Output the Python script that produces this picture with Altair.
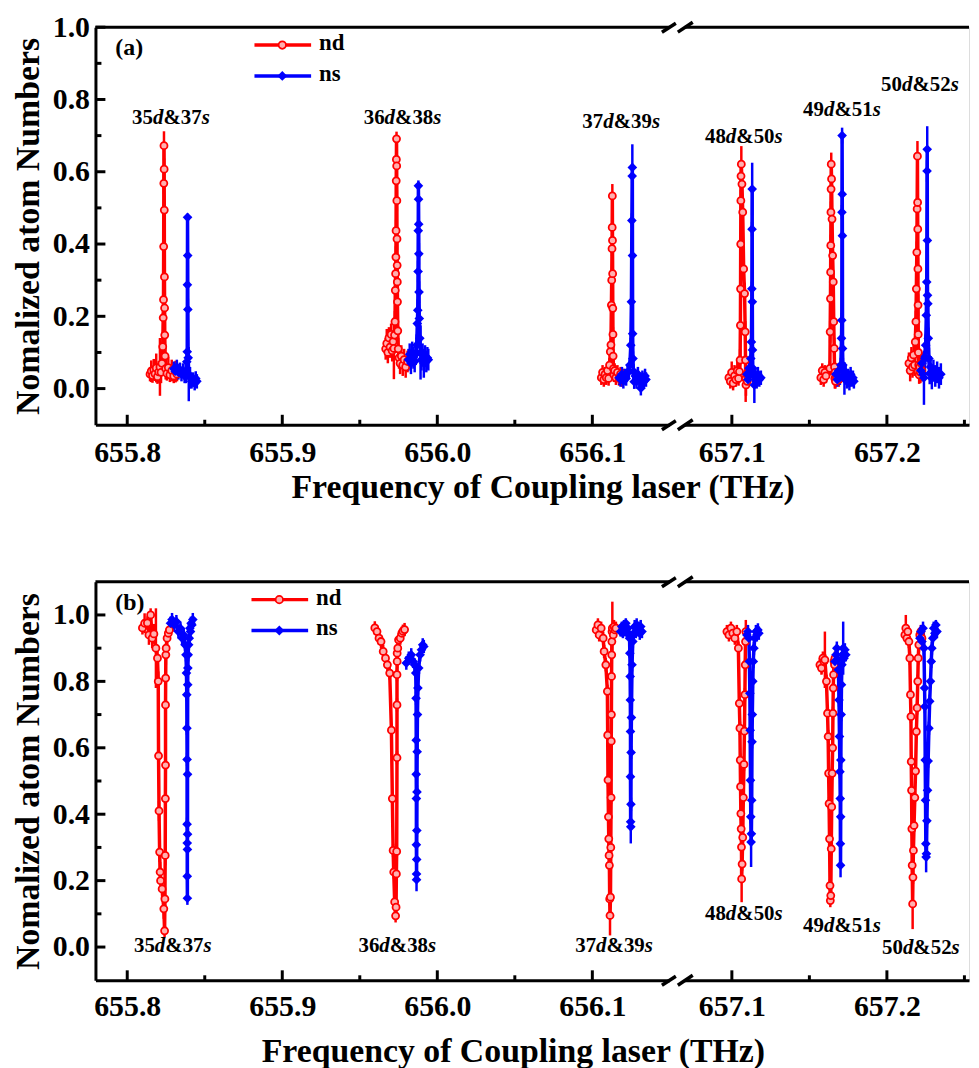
import altair as alt
import pandas as pd

FONT = "Liberation Serif, Times New Roman, serif"
F0 = 655.7795      # frequency at left edge of left segment
F1 = 657.0645      # frequency at start of right segment
BRK = 0.375        # display position of the axis break
PXU = 1560.0       # pixels per THz
W = 879
DOM = W / PXU
HA = 400
HB = 401

SERIES = ["nd", "ns"]
COLORS = ["#ff0000", "#0000ff"]
LABELS = ["35d&37s", "36d&38s", "37d&39s", "48d&50s", "49d&51s", "50d&52s"]
X_MAJOR = [655.8, 655.9, 656.0, 656.1, 657.1, 657.2]
X_MINOR = [655.85, 655.95, 656.05, 657.15, 657.25]
Y_MAJOR = [0.0, 0.2, 0.4, 0.6, 0.8, 1.0]
Y_MINOR = [0.1, 0.3, 0.5, 0.7, 0.9]

# ---------------- panel (a) ----------------
a35_nd_f = [655.8147, 655.8155, 655.8163, 655.8171, 655.8179, 655.8187, 655.8195, 655.8203, 655.8211, 655.8218, 655.8224, 655.8229, 655.8232, 655.8234, 655.8235, 655.8236, 655.8237, 655.8238, 655.8239, 655.8240, 655.8241, 655.8242, 655.8244, 655.8248, 655.8256, 655.8265, 655.8275, 655.8287, 655.8300, 655.8312, 655.8321]
a35_nd_v = [0.040, 0.048, 0.036, 0.052, 0.041, 0.057, 0.033, 0.046, 0.060, 0.045, 0.070, 0.116, 0.196, 0.246, 0.393, 0.568, 0.672, 0.607, 0.494, 0.309, 0.223, 0.148, 0.090, 0.055, 0.042, 0.058, 0.038, 0.050, 0.035, 0.047, 0.040]
a35_nd_e = [0.02, 0.03, 0.02, 0.03, 0.02, 0.04, 0.02, 0.03, 0.08, 0.03, 0.03, 0.03, 0.03, 0.03, 0.03, 0.03, 0.04, 0.03, 0.03, 0.03, 0.03, 0.03, 0.03, 0.03, 0.02, 0.03, 0.02, 0.03, 0.02, 0.03, 0.02]
a35_ns_f = [655.8301, 655.8310, 655.8320, 655.8330, 655.8340, 655.8350, 655.8360, 655.8370, 655.8378, 655.8384, 655.8387, 655.8388, 655.8389, 655.8390, 655.8391, 655.8393, 655.8397, 655.8405, 655.8415, 655.8425, 655.8435, 655.8442, 655.8449]
a35_ns_v = [0.055, 0.048, 0.060, 0.045, 0.052, 0.040, 0.050, 0.035, 0.045, 0.074, 0.102, 0.287, 0.474, 0.368, 0.219, 0.085, 0.040, 0.030, 0.020, 0.025, 0.015, 0.028, 0.020]
a35_ns_e = [0.02, 0.02, 0.02, 0.02, 0.02, 0.02, 0.02, 0.02, 0.03, 0.03, 0.03, 0.03, 0.01, 0.03, 0.03, 0.03, 0.075, 0.03, 0.02, 0.02, 0.02, 0.02, 0.02]

a36_nd_f = [655.9667, 655.9674, 655.9681, 655.9688, 655.9695, 655.9702, 655.9709, 655.9715, 655.9720, 655.9724, 655.9727, 655.9729, 655.9731, 655.9733, 655.9734, 655.9735, 655.9736, 655.9737, 655.9738, 655.9739, 655.9740, 655.9741, 655.9742, 655.9743, 655.9745, 655.9748, 655.9753, 655.9760, 655.9768, 655.9777, 655.9786, 655.9796, 655.9808]
a36_nd_v = [0.110, 0.125, 0.100, 0.140, 0.115, 0.150, 0.105, 0.130, 0.111, 0.148, 0.185, 0.272, 0.318, 0.364, 0.437, 0.575, 0.634, 0.691, 0.616, 0.520, 0.414, 0.341, 0.295, 0.240, 0.160, 0.110, 0.085, 0.070, 0.090, 0.065, 0.080, 0.060, 0.075]
a36_nd_e = [0.03, 0.04, 0.03, 0.03, 0.03, 0.03, 0.03, 0.03, 0.085, 0.03, 0.03, 0.03, 0.03, 0.03, 0.03, 0.03, 0.03, 0.02, 0.03, 0.03, 0.03, 0.03, 0.03, 0.03, 0.03, 0.03, 0.03, 0.03, 0.03, 0.03, 0.03, 0.03, 0.03]
a36_ns_f = [655.9814, 655.9822, 655.9830, 655.9838, 655.9846, 655.9854, 655.9861, 655.9867, 655.9871, 655.9874, 655.9876, 655.9877, 655.9878, 655.9879, 655.9880, 655.9881, 655.9882, 655.9884, 655.9887, 655.9892, 655.9898, 655.9905, 655.9913, 655.9921, 655.9929, 655.9936, 655.9942]
a36_ns_v = [0.080, 0.095, 0.070, 0.100, 0.085, 0.075, 0.095, 0.120, 0.180, 0.217, 0.324, 0.437, 0.561, 0.524, 0.455, 0.373, 0.267, 0.194, 0.139, 0.100, 0.080, 0.095, 0.070, 0.090, 0.075, 0.085, 0.080]
a36_ns_e = [0.03, 0.03, 0.03, 0.03, 0.03, 0.03, 0.03, 0.03, 0.03, 0.03, 0.03, 0.03, 0.015, 0.03, 0.03, 0.03, 0.03, 0.03, 0.03, 0.075, 0.03, 0.03, 0.04, 0.03, 0.03, 0.03, 0.03]

a37_nd_f = [656.1058, 656.1066, 656.1074, 656.1082, 656.1090, 656.1098, 656.1105, 656.1111, 656.1116, 656.1120, 656.1123, 656.1125, 656.1127, 656.1128, 656.1129, 656.1130, 656.1131, 656.1132, 656.1133, 656.1134, 656.1136, 656.1139, 656.1144, 656.1152, 656.1162, 656.1172, 656.1182, 656.1191, 656.1199]
a37_nd_v = [0.030, 0.045, 0.025, 0.040, 0.030, 0.050, 0.028, 0.065, 0.102, 0.121, 0.231, 0.300, 0.387, 0.446, 0.533, 0.410, 0.318, 0.222, 0.150, 0.090, 0.055, 0.038, 0.050, 0.030, 0.045, 0.028, 0.040, 0.025, 0.035]
a37_nd_e = [0.02, 0.02, 0.02, 0.02, 0.02, 0.02, 0.02, 0.02, 0.02, 0.02, 0.02, 0.02, 0.02, 0.02, 0.033, 0.02, 0.02, 0.02, 0.02, 0.02, 0.02, 0.02, 0.02, 0.02, 0.02, 0.02, 0.02, 0.02, 0.02]
a37_ns_f = [656.1173, 656.1182, 656.1191, 656.1200, 656.1209, 656.1218, 656.1227, 656.1235, 656.1242, 656.1248, 656.1252, 656.1255, 656.1257, 656.1258, 656.1259, 656.1260, 656.1262, 656.1265, 656.1270, 656.1277, 656.1285, 656.1294, 656.1303, 656.1313, 656.1323, 656.1333, 656.1340, 656.1346]
a37_ns_v = [0.030, 0.025, 0.040, 0.020, 0.035, 0.028, 0.045, 0.047, 0.065, 0.120, 0.240, 0.465, 0.588, 0.612, 0.368, 0.152, 0.083, 0.047, 0.019, 0.035, 0.020, 0.040, 0.025, 0.001, 0.030, 0.020, 0.035, 0.025]
a37_ns_e = [0.02, 0.02, 0.02, 0.02, 0.02, 0.02, 0.02, 0.02, 0.02, 0.02, 0.02, 0.02, 0.02, 0.064, 0.02, 0.02, 0.02, 0.02, 0.02, 0.02, 0.02, 0.02, 0.02, 0.02, 0.02, 0.02, 0.02, 0.02]

a48_nd_f = [657.0981, 657.0990, 657.0999, 657.1008, 657.1017, 657.1026, 657.1035, 657.1043, 657.1049, 657.1053, 657.1055, 657.1056, 657.1057, 657.1058, 657.1059, 657.1061, 657.1065, 657.1070, 657.1076, 657.1082, 657.1086, 657.1088, 657.1089, 657.1091, 657.1095, 657.1099, 657.1103]
a48_nd_v = [0.030, 0.020, 0.045, 0.015, 0.035, 0.025, 0.050, 0.028, 0.047, 0.079, 0.175, 0.276, 0.400, 0.520, 0.588, 0.621, 0.566, 0.488, 0.331, 0.263, 0.157, 0.079, 0.028, 0.010, 0.040, 0.020, 0.035]
a48_nd_e = [0.02, 0.02, 0.03, 0.02, 0.03, 0.02, 0.03, 0.02, 0.03, 0.03, 0.03, 0.03, 0.03, 0.03, 0.03, 0.05, 0.03, 0.03, 0.03, 0.03, 0.03, 0.03, 0.065, 0.03, 0.02, 0.02, 0.02]
a48_ns_f = [657.1097, 657.1104, 657.1111, 657.1117, 657.1122, 657.1126, 657.1129, 657.1130, 657.1131, 657.1132, 657.1133, 657.1135, 657.1139, 657.1145, 657.1152, 657.1160, 657.1168, 657.1177, 657.1187]
a48_ns_v = [0.040, 0.025, 0.056, 0.038, 0.083, 0.129, 0.276, 0.441, 0.552, 0.240, 0.107, 0.056, 0.038, 0.010, 0.035, 0.020, 0.040, 0.025, 0.030]
a48_ns_e = [0.02, 0.02, 0.02, 0.02, 0.02, 0.02, 0.02, 0.02, 0.073, 0.02, 0.02, 0.02, 0.02, 0.05, 0.02, 0.02, 0.02, 0.02, 0.02]

a49_nd_f = [657.1574, 657.1583, 657.1592, 657.1600, 657.1607, 657.1632, 657.1634, 657.1636, 657.1637, 657.1638, 657.1639, 657.1640, 657.1641, 657.1643, 657.1646, 657.1650, 657.1654, 657.1657, 657.1660, 657.1662, 657.1664, 657.1666, 657.1668, 657.1672, 657.1678, 657.1684, 657.1690]
a49_nd_v = [0.030, 0.050, 0.025, 0.045, 0.035, 0.056, 0.157, 0.249, 0.322, 0.396, 0.488, 0.552, 0.621, 0.580, 0.469, 0.368, 0.295, 0.185, 0.111, 0.060, 0.028, 0.045, 0.020, 0.035, 0.030, 0.040, 0.025]
a49_nd_e = [0.02, 0.02, 0.02, 0.02, 0.02, 0.02, 0.03, 0.03, 0.03, 0.03, 0.03, 0.03, 0.032, 0.03, 0.03, 0.03, 0.03, 0.03, 0.03, 0.03, 0.028, 0.02, 0.02, 0.02, 0.02, 0.02, 0.02]
a49_ns_f = [657.1671, 657.1680, 657.1689, 657.1697, 657.1703, 657.1707, 657.1709, 657.1710, 657.1711, 657.1712, 657.1713, 657.1714, 657.1716, 657.1720, 657.1726, 657.1734, 657.1742, 657.1750, 657.1758, 657.1766, 657.1774, 657.1781, 657.1787]
a49_ns_v = [0.040, 0.025, 0.050, 0.030, 0.065, 0.139, 0.189, 0.488, 0.700, 0.538, 0.423, 0.111, 0.065, 0.038, 0.028, 0.045, 0.020, 0.035, 0.015, 0.040, 0.025, 0.030, 0.020]
a49_ns_e = [0.02, 0.02, 0.02, 0.02, 0.02, 0.02, 0.02, 0.02, 0.022, 0.02, 0.02, 0.02, 0.02, 0.02, 0.045, 0.02, 0.02, 0.02, 0.02, 0.02, 0.02, 0.02, 0.02]

a50_nd_f = [657.2142, 657.2150, 657.2158, 657.2165, 657.2172, 657.2178, 657.2183, 657.2187, 657.2190, 657.2193, 657.2195, 657.2197, 657.2198, 657.2199, 657.2200, 657.2201, 657.2202, 657.2203, 657.2205, 657.2208, 657.2212, 657.2216, 657.2221, 657.2226]
a50_nd_v = [0.070, 0.050, 0.085, 0.060, 0.093, 0.065, 0.129, 0.185, 0.276, 0.377, 0.497, 0.643, 0.515, 0.441, 0.331, 0.231, 0.150, 0.100, 0.065, 0.038, 0.060, 0.045, 0.070, 0.050]
a50_nd_e = [0.03, 0.03, 0.03, 0.03, 0.03, 0.03, 0.03, 0.03, 0.03, 0.03, 0.03, 0.042, 0.03, 0.03, 0.03, 0.03, 0.03, 0.03, 0.03, 0.025, 0.03, 0.03, 0.03, 0.03]
a50_ns_f = [657.2219, 657.2226, 657.2232, 657.2239, 657.2245, 657.2250, 657.2254, 657.2257, 657.2259, 657.2260, 657.2261, 657.2262, 657.2264, 657.2267, 657.2271, 657.2276, 657.2282, 657.2290, 657.2300, 657.2312, 657.2324, 657.2336, 657.2348]
a50_ns_v = [0.050, 0.070, 0.040, 0.030, 0.083, 0.120, 0.203, 0.295, 0.602, 0.662, 0.410, 0.258, 0.235, 0.139, 0.083, 0.042, 0.060, 0.028, 0.050, 0.035, 0.045, 0.030, 0.040]
a50_ns_e = [0.02, 0.03, 0.02, 0.075, 0.03, 0.03, 0.03, 0.03, 0.03, 0.064, 0.03, 0.03, 0.03, 0.03, 0.03, 0.03, 0.03, 0.03, 0.03, 0.03, 0.03, 0.03, 0.03]

# ---------------- panel (b) ----------------
b35_nd_f = [655.8098, 655.8112, 655.8130, 655.8140, 655.8151, 655.8161, 655.8172, 655.8185, 655.8195, 655.8200, 655.8202, 655.8205, 655.8209, 655.8212, 655.8215, 655.8225, 655.8236, 655.8241, 655.8243, 655.8245, 655.8246, 655.8247, 655.8247, 655.8248, 655.8249, 655.8251, 655.8257, 655.8265, 655.8272]
b35_nd_v = [0.961, 0.975, 0.976, 0.940, 1.000, 0.930, 0.943, 0.900, 0.870, 0.800, 0.576, 0.410, 0.286, 0.226, 0.200, 0.175, 0.115, 0.049, 0.145, 0.276, 0.447, 0.548, 0.729, 0.810, 0.880, 0.900, 0.930, 0.945, 0.955]
b35_nd_e = [0.02, 0.03, 0.02, 0.03, 0.02, 0.03, 0.03, 0.12, 0.03, 0.03, 0.03, 0.03, 0.03, 0.03, 0.03, 0.03, 0.03, 0.02, 0.03, 0.03, 0.03, 0.03, 0.03, 0.03, 0.03, 0.03, 0.03, 0.02, 0.02]
b35_ns_f = [655.8279, 655.8289, 655.8303, 655.8317, 655.8330, 655.8343, 655.8354, 655.8364, 655.8373, 655.8379, 655.8382, 655.8384, 655.8385, 655.8386, 655.8386, 655.8387, 655.8387, 655.8388, 655.8388, 655.8389, 655.8389, 655.8390, 655.8391, 655.8393, 655.8396, 655.8400, 655.8404, 655.8408, 655.8412, 655.8417, 655.8423]
b35_ns_v = [0.975, 0.986, 0.970, 0.980, 0.950, 0.960, 0.930, 0.940, 0.910, 0.880, 0.825, 0.760, 0.659, 0.565, 0.370, 0.313, 0.213, 0.147, 0.294, 0.340, 0.520, 0.790, 0.840, 0.880, 0.910, 0.930, 0.960, 0.950, 0.975, 0.970, 0.986]
b35_ns_e = [0.02, 0.02, 0.02, 0.02, 0.02, 0.02, 0.02, 0.02, 0.02, 0.02, 0.02, 0.02, 0.02, 0.02, 0.02, 0.02, 0.02, 0.02, 0.02, 0.02, 0.02, 0.02, 0.02, 0.02, 0.02, 0.02, 0.02, 0.02, 0.02, 0.02, 0.02]

b36_nd_f = [655.9597, 655.9611, 655.9624, 655.9637, 655.9651, 655.9666, 655.9678, 655.9693, 655.9704, 655.9710, 655.9715, 655.9719, 655.9725, 655.9731, 655.9734, 655.9736, 655.9738, 655.9740, 655.9740, 655.9740, 655.9741, 655.9741, 655.9745, 655.9750, 655.9761, 655.9771, 655.9778, 655.9789]
b36_nd_v = [0.961, 0.950, 0.930, 0.920, 0.890, 0.870, 0.850, 0.825, 0.653, 0.447, 0.291, 0.226, 0.136, 0.094, 0.120, 0.220, 0.288, 0.570, 0.729, 0.820, 0.860, 0.885, 0.900, 0.925, 0.930, 0.945, 0.951, 0.956]
b36_nd_e = [0.02, 0.02, 0.02, 0.02, 0.02, 0.02, 0.02, 0.02, 0.02, 0.02, 0.02, 0.02, 0.02, 0.02, 0.02, 0.02, 0.02, 0.02, 0.02, 0.02, 0.02, 0.02, 0.02, 0.02, 0.02, 0.02, 0.02, 0.02]
b36_ns_f = [655.9800, 655.9816, 655.9832, 655.9844, 655.9853, 655.9861, 655.9863, 655.9864, 655.9864, 655.9865, 655.9865, 655.9866, 655.9866, 655.9867, 655.9868, 655.9869, 655.9870, 655.9872, 655.9875, 655.9880, 655.9889, 655.9898, 655.9906, 655.9913]
b36_ns_v = [0.855, 0.870, 0.880, 0.860, 0.850, 0.825, 0.749, 0.623, 0.520, 0.447, 0.308, 0.220, 0.203, 0.264, 0.351, 0.467, 0.588, 0.700, 0.780, 0.840, 0.880, 0.895, 0.910, 0.905]
b36_ns_e = [0.02, 0.02, 0.02, 0.02, 0.02, 0.02, 0.02, 0.02, 0.02, 0.02, 0.02, 0.02, 0.035, 0.02, 0.02, 0.02, 0.02, 0.02, 0.02, 0.02, 0.02, 0.02, 0.02, 0.02]

b37_nd_f = [656.1025, 656.1036, 656.1044, 656.1057, 656.1070, 656.1076, 656.1087, 656.1097, 656.1099, 656.1101, 656.1104, 656.1106, 656.1108, 656.1110, 656.1112, 656.1114, 656.1117, 656.1119, 656.1121, 656.1122, 656.1123, 656.1124, 656.1125, 656.1126, 656.1127, 656.1129, 656.1135, 656.1140, 656.1146, 656.1152]
b37_nd_v = [0.955, 0.970, 0.940, 0.960, 0.930, 0.890, 0.850, 0.770, 0.638, 0.503, 0.392, 0.326, 0.276, 0.246, 0.145, 0.095, 0.150, 0.300, 0.450, 0.620, 0.700, 0.815, 0.880, 0.920, 0.950, 0.960, 0.940, 0.965, 0.955, 0.960]
b37_nd_e = [0.02, 0.02, 0.02, 0.02, 0.02, 0.02, 0.02, 0.02, 0.02, 0.02, 0.02, 0.02, 0.02, 0.02, 0.02, 0.06, 0.02, 0.02, 0.02, 0.02, 0.02, 0.02, 0.02, 0.02, 0.02, 0.08, 0.02, 0.02, 0.02, 0.02]
b37_ns_f = [656.1182, 656.1190, 656.1197, 656.1204, 656.1210, 656.1216, 656.1222, 656.1229, 656.1235, 656.1240, 656.1242, 656.1244, 656.1245, 656.1246, 656.1246, 656.1247, 656.1248, 656.1249, 656.1250, 656.1252, 656.1256, 656.1261, 656.1267, 656.1273, 656.1280, 656.1286, 656.1293, 656.1299, 656.1306, 656.1312, 656.1320]
b37_ns_v = [0.950, 0.965, 0.945, 0.970, 0.955, 0.975, 0.950, 0.960, 0.940, 0.930, 0.885, 0.815, 0.744, 0.649, 0.513, 0.377, 0.362, 0.430, 0.586, 0.691, 0.850, 0.920, 0.945, 0.965, 0.950, 0.970, 0.955, 0.960, 0.945, 0.965, 0.950]
b37_ns_e = [0.015, 0.015, 0.015, 0.015, 0.015, 0.015, 0.015, 0.015, 0.015, 0.015, 0.015, 0.015, 0.015, 0.015, 0.015, 0.015, 0.05, 0.02, 0.02, 0.02, 0.02, 0.02, 0.02, 0.02, 0.02, 0.02, 0.02, 0.02, 0.02, 0.02, 0.02]

b48_nd_f = [657.0968, 657.0981, 657.0994, 657.1006, 657.1019, 657.1032, 657.1042, 657.1048, 657.1052, 657.1054, 657.1056, 657.1058, 657.1060, 657.1062, 657.1063, 657.1066, 657.1070, 657.1074, 657.1078, 657.1081, 657.1084, 657.1086, 657.1088, 657.1090]
b48_nd_v = [0.950, 0.940, 0.960, 0.945, 0.930, 0.950, 0.900, 0.734, 0.659, 0.563, 0.483, 0.402, 0.356, 0.301, 0.205, 0.250, 0.330, 0.450, 0.550, 0.650, 0.760, 0.850, 0.920, 0.950]
b48_nd_e = [0.02, 0.02, 0.02, 0.02, 0.02, 0.02, 0.02, 0.02, 0.02, 0.02, 0.02, 0.02, 0.02, 0.02, 0.07, 0.02, 0.02, 0.02, 0.02, 0.02, 0.02, 0.02, 0.02, 0.035]
b48_ns_f = [657.1097, 657.1104, 657.1110, 657.1113, 657.1116, 657.1118, 657.1120, 657.1122, 657.1124, 657.1126, 657.1128, 657.1130, 657.1132, 657.1135, 657.1138, 657.1142, 657.1148, 657.1155, 657.1161, 657.1168, 657.1174]
b48_ns_v = [0.940, 0.950, 0.930, 0.860, 0.764, 0.653, 0.502, 0.392, 0.316, 0.341, 0.442, 0.618, 0.700, 0.800, 0.860, 0.900, 0.930, 0.950, 0.940, 0.955, 0.945]
b48_ns_e = [0.02, 0.02, 0.02, 0.02, 0.02, 0.02, 0.02, 0.02, 0.075, 0.02, 0.02, 0.02, 0.02, 0.02, 0.02, 0.02, 0.02, 0.02, 0.02, 0.02, 0.02]

b49_nd_f = [657.1568, 657.1578, 657.1587, 657.1594, 657.1600, 657.1610, 657.1617, 657.1621, 657.1624, 657.1627, 657.1630, 657.1633, 657.1635, 657.1638, 657.1641, 657.1644, 657.1647, 657.1650, 657.1652, 657.1654, 657.1656, 657.1659, 657.1662, 657.1665]
b49_nd_v = [0.850, 0.840, 0.870, 0.860, 0.865, 0.800, 0.704, 0.634, 0.523, 0.432, 0.326, 0.185, 0.140, 0.155, 0.296, 0.422, 0.523, 0.600, 0.704, 0.780, 0.820, 0.860, 0.850, 0.870]
b49_nd_e = [0.02, 0.02, 0.02, 0.02, 0.085, 0.02, 0.02, 0.02, 0.02, 0.02, 0.02, 0.02, 0.02, 0.02, 0.02, 0.02, 0.02, 0.02, 0.02, 0.02, 0.02, 0.02, 0.02, 0.02]
b49_ns_f = [657.1665, 657.1672, 657.1677, 657.1683, 657.1687, 657.1691, 657.1694, 657.1697, 657.1699, 657.1700, 657.1701, 657.1702, 657.1703, 657.1705, 657.1707, 657.1710, 657.1713, 657.1718, 657.1723, 657.1729, 657.1735]
b49_ns_v = [0.860, 0.880, 0.900, 0.865, 0.835, 0.744, 0.634, 0.528, 0.447, 0.311, 0.246, 0.392, 0.563, 0.700, 0.790, 0.850, 0.880, 0.900, 0.870, 0.895, 0.880]
b49_ns_e = [0.02, 0.02, 0.02, 0.02, 0.02, 0.02, 0.02, 0.02, 0.02, 0.02, 0.036, 0.02, 0.02, 0.02, 0.02, 0.02, 0.02, 0.08, 0.02, 0.02, 0.02]

b50_nd_f = [657.2116, 657.2122, 657.2129, 657.2135, 657.2142, 657.2148, 657.2152, 657.2155, 657.2157, 657.2159, 657.2161, 657.2163, 657.2166, 657.2168, 657.2171, 657.2175, 657.2180, 657.2185, 657.2190, 657.2195, 657.2199, 657.2202, 657.2206, 657.2212, 657.2219, 657.2226]
b50_nd_v = [0.940, 0.960, 0.930, 0.950, 0.920, 0.870, 0.760, 0.694, 0.558, 0.472, 0.356, 0.246, 0.130, 0.210, 0.291, 0.366, 0.450, 0.530, 0.649, 0.720, 0.800, 0.870, 0.910, 0.940, 0.950, 0.930]
b50_nd_e = [0.02, 0.04, 0.02, 0.02, 0.02, 0.02, 0.02, 0.02, 0.02, 0.02, 0.02, 0.02, 0.076, 0.02, 0.02, 0.02, 0.02, 0.02, 0.02, 0.02, 0.02, 0.02, 0.02, 0.02, 0.02, 0.02]
b50_ns_f = [657.2213, 657.2220, 657.2226, 657.2233, 657.2239, 657.2243, 657.2245, 657.2247, 657.2249, 657.2251, 657.2253, 657.2255, 657.2258, 657.2262, 657.2266, 657.2271, 657.2276, 657.2281, 657.2286, 657.2290, 657.2296, 657.2302, 657.2309, 657.2316, 657.2323]
b50_ns_v = [0.930, 0.950, 0.920, 0.960, 0.900, 0.780, 0.724, 0.563, 0.442, 0.311, 0.271, 0.281, 0.380, 0.472, 0.560, 0.659, 0.740, 0.800, 0.860, 0.900, 0.930, 0.960, 0.945, 0.970, 0.950]
b50_ns_e = [0.02, 0.02, 0.02, 0.02, 0.02, 0.02, 0.02, 0.02, 0.02, 0.02, 0.046, 0.02, 0.02, 0.02, 0.02, 0.02, 0.02, 0.02, 0.02, 0.02, 0.02, 0.02, 0.02, 0.015, 0.02]

# resonance label anchors (centre frequency, value)
a_lab_f = [655.8282, 655.9776, 656.1186, 657.1077, 657.1710, 657.2213]
a_lab_v = [0.749, 0.749, 0.738, 0.697, 0.771, 0.840]
b_lab_f = [655.8294, 655.9742, 656.1140, 657.1077, 657.1710, 657.2219]
b_lab_v = [0.003, 0.003, 0.003, 0.100, 0.063, -0.003]

CURVES_A = [
    ("35", "nd", a35_nd_f, a35_nd_v, a35_nd_e), ("35", "ns", a35_ns_f, a35_ns_v, a35_ns_e),
    ("36", "nd", a36_nd_f, a36_nd_v, a36_nd_e), ("36", "ns", a36_ns_f, a36_ns_v, a36_ns_e),
    ("37", "nd", a37_nd_f, a37_nd_v, a37_nd_e), ("37", "ns", a37_ns_f, a37_ns_v, a37_ns_e),
    ("48", "nd", a48_nd_f, a48_nd_v, a48_nd_e), ("48", "ns", a48_ns_f, a48_ns_v, a48_ns_e),
    ("49", "nd", a49_nd_f, a49_nd_v, a49_nd_e), ("49", "ns", a49_ns_f, a49_ns_v, a49_ns_e),
    ("50", "nd", a50_nd_f, a50_nd_v, a50_nd_e), ("50", "ns", a50_ns_f, a50_ns_v, a50_ns_e),
]
CURVES_B = [
    ("35", "nd", b35_nd_f, b35_nd_v, b35_nd_e), ("35", "ns", b35_ns_f, b35_ns_v, b35_ns_e),
    ("36", "nd", b36_nd_f, b36_nd_v, b36_nd_e), ("36", "ns", b36_ns_f, b36_ns_v, b36_ns_e),
    ("37", "nd", b37_nd_f, b37_nd_v, b37_nd_e), ("37", "ns", b37_ns_f, b37_ns_v, b37_ns_e),
    ("48", "nd", b48_nd_f, b48_nd_v, b48_nd_e), ("48", "ns", b48_ns_f, b48_ns_v, b48_ns_e),
    ("49", "nd", b49_nd_f, b49_nd_v, b49_nd_e), ("49", "ns", b49_ns_f, b49_ns_v, b49_ns_e),
    ("50", "nd", b50_nd_f, b50_nd_v, b50_nd_e), ("50", "ns", b50_ns_f, b50_ns_v, b50_ns_e),
]

DISP = f"(datum.f < 656.5 ? datum.f - {F0} : datum.f - {F1} + {BRK})"


def disp(f):
    return f - F0 if f < 656.5 else f - F1 + BRK


def curve_df(curves):
    rows = []
    for res, ser, fs, vs, es in curves:
        for i, (f, v, e) in enumerate(zip(fs, vs, es)):
            rows.append(dict(cid=res + ser, series=ser, idx=i, f=f, v=v, lo=v - e, hi=v + e))
    return pd.DataFrame(rows)


UPW = {"&": 0.833}
ITW = {"d": 0.5, "s": 0.389}
LFS = 21


def label_df(lab_f, lab_v):
    rows = []
    for lab, f, v in zip(LABELS, lab_f, lab_v):
        pieces = []
        cur = ""
        for ch in lab:
            if ch in ITW:
                if cur:
                    pieces.append((cur, False))
                    cur = ""
                pieces.append((ch, True))
            else:
                cur += ch
        if cur:
            pieces.append((cur, False))
        widths = []
        for t, it in pieces:
            if it:
                widths.append(sum(ITW[c] for c in t) * LFS)
            else:
                widths.append(sum(UPW.get(c, 0.5) for c in t) * LFS)
        total = sum(widths)
        off = -total / 2
        for (t, it), w in zip(pieces, widths):
            rows.append(dict(f=f, v=v, t=t, it=it, off=off))
            off += w
    return pd.DataFrame(rows)


LABEL_EXPR = (f"datum.value < {BRK} ? format(datum.value + {F0}, '.1f') : "
              f"format(datum.value + {F1} - {BRK}, '.1f')")


def make_panel(curves, lab_f, lab_v, ydom, H, letter, title_x, label_pad, title_pad, leg_x0):
    xscale = alt.Scale(domain=[0, DOM], nice=False, zero=False)
    yscale = alt.Scale(domain=ydom, nice=False, zero=False)
    xaxis = alt.Axis(values=[disp(f) for f in X_MAJOR], labelExpr=LABEL_EXPR, ticks=False, grid=False,
                     domainColor="black", domainWidth=3, labelFont=FONT, labelFontWeight="bold",
                     labelFontSize=30, labelColor="black", labelPadding=label_pad, labelFlush=False,
                     labelOverlap=False, title="Frequency of Coupling laser (THz)", titleFont=FONT,
                     titleFontWeight="bold", titleFontSize=34, titleColor="black",
                     titlePadding=title_pad, titleX=title_x)
    yaxis = alt.Axis(values=Y_MAJOR, format=".1f", ticks=False, grid=False, domainColor="black",
                     domainWidth=3, labelFont=FONT, labelFontWeight="bold", labelFontSize=30,
                     labelColor="black", labelPadding=6, labelFlush=False, labelOverlap=False,
                     title="Nomalized atom Numbers", titleFont=FONT, titleFontWeight="bold",
                     titleFontSize=34, titleColor="black", titlePadding=7)

    def X():
        return alt.X("xd:Q", scale=xscale, axis=xaxis)

    def Y(field):
        return alt.Y(field, type="quantitative", scale=yscale, axis=yaxis)

    color = alt.Color("series:N", scale=alt.Scale(domain=SERIES, range=COLORS), legend=None)

    df = curve_df(curves)
    base = alt.Chart(df).transform_calculate(xd=DISP)
    err = base.mark_rule(strokeWidth=2.5).encode(x=X(), y=Y("lo"), y2="hi:Q", color=color)
    line = base.mark_line(strokeWidth=3.5).encode(x=X(), y=Y("v"), color=color, detail="cid:N",
                                                  order=alt.Order("idx:Q"))
    pnd = base.transform_filter(alt.datum.series == "nd").mark_point(
        shape="circle", filled=True, size=50, fill="#ffb0b0", stroke="#ff0000", strokeWidth=1.8,
        opacity=1).encode(x=X(), y=Y("v"))
    pns = base.transform_filter(alt.datum.series == "ns").mark_point(
        shape="diamond", filled=True, size=95, color="#0000ff", opacity=1).encode(x=X(), y=Y("v"))

    ldf = label_df(lab_f, lab_v)
    lbase = alt.Chart(ldf).transform_calculate(xd=DISP + f" + datum.off / {PXU}")
    lab_up = lbase.transform_filter("!datum.it").mark_text(
        align="left", baseline="middle", font=FONT, fontWeight="bold", fontSize=LFS,
        color="black").encode(x=X(), y=Y("v"), text="t:N")
    lab_it = lbase.transform_filter("datum.it").mark_text(
        align="left", baseline="middle", font=FONT, fontWeight="bold", fontStyle="italic",
        fontSize=LFS, color="black").encode(x=X(), y=Y("v"), text="t:N")

    # inward ticks
    xt_maj = alt.Chart(pd.DataFrame({"f": X_MAJOR})).transform_calculate(xd=DISP).mark_rule(
        strokeWidth=3, color="black").encode(x=X(), y=alt.value(H), y2=alt.value(H - 10))
    xt_min = alt.Chart(pd.DataFrame({"f": X_MINOR})).transform_calculate(xd=DISP).mark_rule(
        strokeWidth=3, color="black").encode(x=X(), y=alt.value(H), y2=alt.value(H - 5))
    yt_maj = alt.Chart(pd.DataFrame({"v": Y_MAJOR})).mark_rule(strokeWidth=3, color="black").encode(
        x=alt.value(0), x2=alt.value(10), y=Y("v"))
    yt_min = alt.Chart(pd.DataFrame({"v": Y_MINOR})).mark_rule(strokeWidth=3, color="black").encode(
        x=alt.value(0), x2=alt.value(6), y=Y("v"))

    one = pd.DataFrame({"k": [0]})
    top = alt.Chart(one).mark_rule(strokeWidth=3, color="black").encode(
        x=alt.value(0), x2=alt.value(W), y=alt.value(0))

    xb = BRK * PXU
    brk_layers = []
    for y0 in (0, H):
        brk_layers.append(alt.Chart(one).mark_rect(color="white").encode(
            x=alt.value(xb - 7), x2=alt.value(xb + 8), y=alt.value(y0 - 4), y2=alt.value(y0 + 4)))
        brk_layers.append(alt.Chart(one).mark_rule(strokeWidth=3.5, color="black").encode(
            x=alt.value(xb - 15), x2=alt.value(xb - 1), y=alt.value(y0 + 5), y2=alt.value(y0 - 4)))
        brk_layers.append(alt.Chart(one).mark_rule(strokeWidth=3.5, color="black").encode(
            x=alt.value(xb + 1), x2=alt.value(xb + 16), y=alt.value(y0 + 5), y2=alt.value(y0 - 5)))

    # legend
    leg = []
    for i, s in enumerate(SERIES):
        ly = 18 + 31 * i
        sdf = pd.DataFrame({"series": [s]})
        leg.append(alt.Chart(sdf).mark_rule(strokeWidth=3.5).encode(
            x=alt.value(leg_x0), x2=alt.value(leg_x0 + 57), y=alt.value(ly), color=color))
        if s == "nd":
            leg.append(alt.Chart(sdf).mark_point(shape="circle", filled=True, size=55, fill="#ffb0b0",
                                                 stroke="#ff0000", strokeWidth=1.8, opacity=1).encode(
                x=alt.value(leg_x0 + 28), y=alt.value(ly)))
        else:
            leg.append(alt.Chart(sdf).mark_point(shape="diamond", filled=True, size=100, color="#0000ff",
                                                 opacity=1).encode(
                x=alt.value(leg_x0 + 28), y=alt.value(ly)))
        leg.append(alt.Chart(sdf).mark_text(align="left", baseline="middle", font=FONT, fontWeight="bold",
                                            fontSize=23, color="black").encode(
            x=alt.value(leg_x0 + 65), y=alt.value(ly - 2), text="series:N"))

    let = alt.Chart(pd.DataFrame({"t": [letter]})).mark_text(
        align="left", baseline="middle", font=FONT, fontWeight="bold", fontSize=24, color="black").encode(
        x=alt.value(20), y=alt.value(21), text="t:N")

    return alt.layer(err, line, pnd, pns, lab_up, lab_it, xt_maj, xt_min, yt_maj, yt_min, top,
                     *brk_layers, *leg, let).properties(width=W, height=H)


panel_a = make_panel(CURVES_A, a_lab_f, a_lab_v, [-0.1, 1.0], HA, "(a)", 450, 13, 3, 160)
panel_b = make_panel(CURVES_B, b_lab_f, b_lab_v, [-0.1, 1.1], HB, "(b)", 420, 11, 14, 157)

chart = alt.vconcat(panel_a, panel_b, spacing=69).properties(
    padding={"left": 3, "top": 0, "right": 0, "bottom": 0}
).configure_view(stroke=None).configure(background="white")

chart.save("out.html", embed_options={"renderer": "svg", "actions": False})
